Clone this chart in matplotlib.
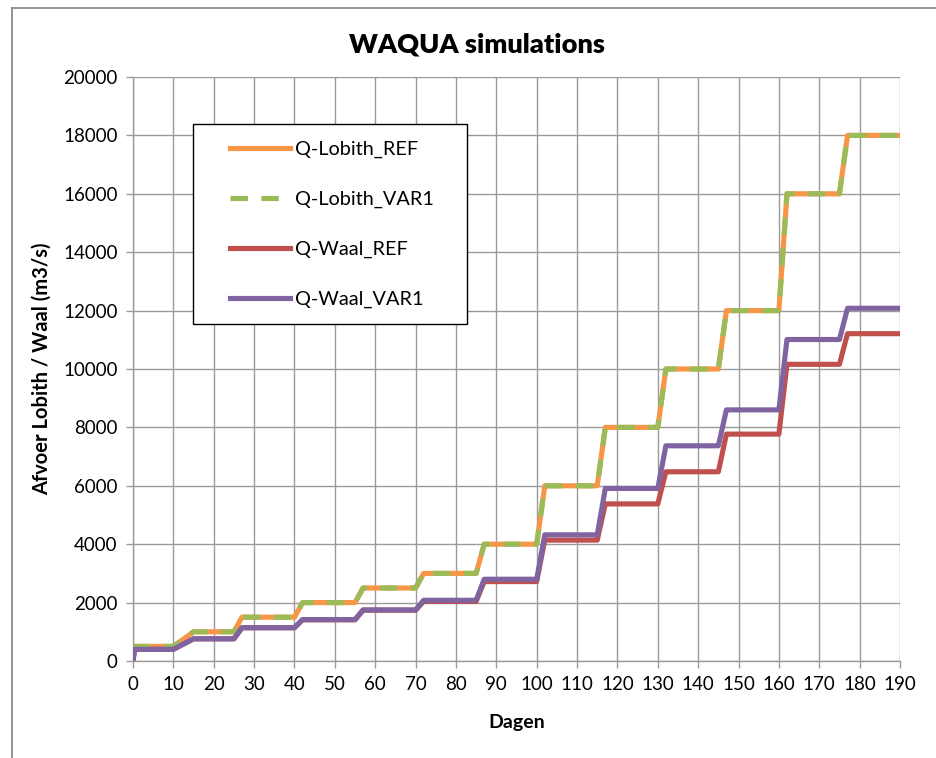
import matplotlib
matplotlib.use("Agg")
import matplotlib.pyplot as plt
from matplotlib.lines import Line2D
from matplotlib.patches import Rectangle

plt.rcParams['font.family'] = ['Lato', 'DejaVu Sans']

days = [0, 0.4, 10, 15, 25, 27, 40, 42, 55, 57, 70, 72, 85, 87, 100, 102,
        115, 117, 130, 132, 145, 147, 160, 162, 175, 177, 190]

lobith_ref = [500, 500, 500, 1000, 1000, 1500, 1500, 2000, 2000, 2500, 2500, 3000, 3000,
              4000, 4000, 6000, 6000, 8000, 8000, 10000, 10000, 12000, 12000, 16000, 16000,
              18000, 18000]
lobith_var1 = list(lobith_ref)
waal_ref = [0, 400, 400, 760, 760, 1140, 1140, 1410, 1410, 1740, 1740, 2040, 2040,
            2720, 2720, 4140, 4140, 5380, 5380, 6480, 6480, 7770, 7770, 10160, 10160,
            11210, 11210]
waal_var1 = [0, 400, 400, 760, 760, 1140, 1140, 1420, 1420, 1750, 1750, 2080, 2080,
             2800, 2800, 4320, 4320, 5910, 5910, 7370, 7370, 8600, 8600, 11010, 11010,
             12080, 12080]

labels = ["Q-Lobith_REF", "Q-Lobith_VAR1", "Q-Waal_REF", "Q-Waal_VAR1"]
colors = ["#F79646", "#9BBB59", "#C0504D", "#8064A2"]
xticks = list(range(0, 191, 10))
yticks = list(range(0, 20001, 2000))

W, H = 937, 758
fig = plt.figure(figsize=(W / 100, H / 100), dpi=100)
ax = fig.add_axes([133 / W, (H - 661) / H, 767 / W, 584 / H])

lw = 3.7
ax.plot(days, lobith_ref, color=colors[0], lw=lw, solid_joinstyle='round', label=labels[0], zorder=3)
ax.plot(days, lobith_var1, color=colors[1], lw=lw, dashes=(3.4, 2.6), label=labels[1], zorder=4)
ax.plot(days, waal_ref, color=colors[2], lw=lw, solid_joinstyle='round', label=labels[2], zorder=3)
ax.plot(days, waal_var1, color=colors[3], lw=lw, solid_joinstyle='round', label=labels[3], zorder=4)

ax.set_xlim(0, 190)
ax.set_ylim(0, 20000)
ax.set_xticks(xticks)
ax.set_yticks(yticks)
ax.grid(True, color="#9a9a9a", lw=1.0)
ax.set_axisbelow(True)
for s in ["top", "right"]:
    ax.spines[s].set_visible(False)
for s in ["left", "bottom"]:
    ax.spines[s].set_color("#9a9a9a")
    ax.spines[s].set_linewidth(1.0)
ax.tick_params(axis='both', length=5, width=1.0, color="#9a9a9a", labelsize=13.5,
               labelcolor="#000000", pad=6)

fig.text(477 / W, 1 - 45 / H, "WAQUA simulations", ha='center', va='center',
         fontsize=19.5, fontweight='heavy')
ax.set_xlabel("Dagen", fontsize=14, fontweight='bold', labelpad=15)
ax.set_ylabel("Afvoer Lobith / Waal (m3/s)", fontsize=14.5, fontweight='bold', labelpad=8)

# legend box
box = Rectangle((193 / W, 1 - 324 / H), (467 - 193) / W, (324 - 124) / H,
                transform=fig.transFigure, facecolor='white', edgecolor='black',
                lw=1.0, zorder=5, clip_on=False)
ax.add_patch(box)
leg = ax.legend(loc='upper left', bbox_to_anchor=(230 / W, 1 - 141 / H),
                bbox_transform=fig.transFigure, borderaxespad=0, borderpad=0,
                fontsize=14.3, handlelength=3.0, handletextpad=0.25, labelspacing=1.65,
                frameon=False)
leg.set_zorder(6)

# outer chart border
fig.add_artist(Line2D([12 / W, 12 / W], [0, 1 - 8 / H], transform=fig.transFigure,
                      color="#8a8a8a", lw=1.3))
fig.add_artist(Line2D([12 / W, 1], [1 - 8 / H, 1 - 8 / H], transform=fig.transFigure,
                      color="#8a8a8a", lw=1.3))

fig.savefig("out.png", dpi=100)
